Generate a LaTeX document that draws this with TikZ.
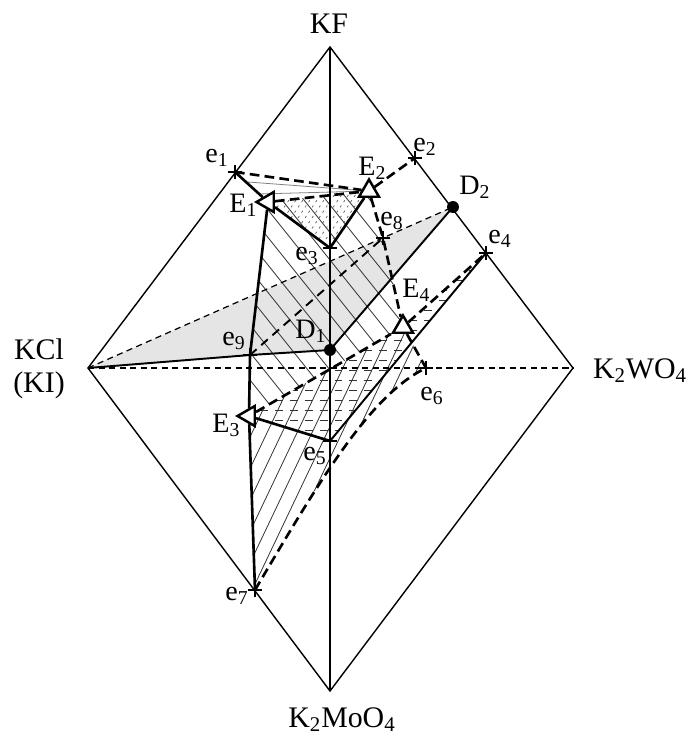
\documentclass[tikz,border=0pt]{standalone}
\usepackage{fontspec}
\setmainfont{Liberation Serif}
\usetikzlibrary{shapes.geometric}

\tikzset{
  edge/.style={line width=0.8pt},
  medline/.style={line width=1.1pt},
  thickline/.style={line width=1.5pt},
  thickdash/.style={line width=1.5pt, dash pattern=on 5.5pt off 3pt},
  meddash/.style={line width=1.1pt, dash pattern=on 5pt off 3.5pt},
  thindash/.style={line width=0.7pt, dash pattern=on 3.5pt off 2.5pt},
  hatch/.style={line width=0.45pt, black!80},
  tri/.style={regular polygon, regular polygon sides=3, draw, line width=1.4pt,
    fill=white, minimum size=0.46cm, inner sep=0pt},
  cmpd/.style={font=\fontsize{17}{20}\selectfont, inner sep=0pt, anchor=base},
  ptlab/.style={font=\fontsize{16}{18}\selectfont, inner sep=0pt, anchor=base west},
}

\begin{document}
\begin{tikzpicture}[x=0.02cm,y=-0.02cm]
\useasboundingbox (0,0) rectangle (691,738);

% corners of the square system
\coordinate (KF) at (330,47);
\coordinate (KCl) at (88,368);
\coordinate (KW) at (573,368);
\coordinate (KMo) at (330,691);

% eutectics and other points
\coordinate (e1) at (235,172);
\coordinate (e2) at (415,158);
\coordinate (e3) at (330,248);
\coordinate (e4) at (486,253);
\coordinate (e5) at (330,441);
\coordinate (e6) at (426,368);
\coordinate (e7) at (255,590);
\coordinate (e8) at (383,238);
\coordinate (e9) at (250,355);
\coordinate (D1) at (330,350);
\coordinate (D2) at (453,207);

% ternary eutectics (drawn later on top)
\node[tri, shape border rotate=90, draw=none, fill=none] (E1) at (268,202) {};
\node[tri, draw=none, fill=none] (E2) at (369,191) {};
\node[tri, shape border rotate=90, draw=none, fill=none] (E3) at (249,416) {};
\node[tri, draw=none, fill=none] (E4) at (403,327) {};

% grey field
\fill[gray!20] (KCl) -- (D2) -- (D1) -- cycle;

% hatching
\begin{scope}
  \clip (E1.center) -- (E2.center) -- (e8) -- (E4.center) -- (E3.center) -- (e9) -- cycle;
  \foreach \c in {0,22,...,460}
    \draw[hatch] (\c-100,25) -- ++(400,500);
\end{scope}
\begin{scope}
  \clip (E3.center) -- (E4.center) -- (e6) .. controls (370,395) and (320,480) .. (e7) -- cycle;
  \foreach \c in {130,145,...,500}
    \draw[hatch] (\c-80,668) -- ++(180,-378);
\end{scope}
\begin{scope}
  \clip (E3.center) -- (E4.center) -- (e4) -- (e5) -- cycle;
  \foreach \y in {250,260,...,450}
    \draw[hatch, dash pattern=on 4.5pt off 4pt] (230,\y) -- (500,\y);
\end{scope}
\begin{scope}
  \clip (E1.center) -- (E2.center) -- (e3) -- cycle;
  \foreach \c in {200,207,...,440}
    \draw[hatch, black!60, dash pattern=on 1.3pt off 2.3pt] (\c,260) -- ++(60,-90);
\end{scope}
\draw[hatch, gray] (248,182) -- (E2.center);
\draw[hatch, gray] (258,194) -- (E2.center);

% square and diagonals
\draw[edge] (KF) -- (KW) -- (KMo) -- (KCl) -- cycle;
\draw[edge] (KF) -- (KMo);
\draw[thindash] (KCl) -- (KW);
\draw[thindash] (KCl) -- (D2);

% stable sections
\draw[medline] (KCl) -- (e9) -- (D1) -- (D2);
\draw[medline] (e5) -- (e4);

% crystallization curves
\draw[thickline] (e1) -- (E1);
\draw[thickline] (E1) -- (e9) -- (E3) -- (e7);
\draw[thickline] (E1) -- (e3) -- (E2);
\draw[thickline] (E3) -- (e5);
\draw[thickdash] (e1) -- (E2);
\draw[thickdash] (E1) -- (E2);
\draw[thickdash] (E2) -- (e2);
\draw[thickdash] (E2) -- (e8) -- (E4);
\draw[thickdash] (E4) -- (e6);
\draw[thickdash] (E4) -- (e4);
\draw[thickdash] (E3) -- (E4);
\draw[meddash] (e9) -- (e8);
\draw[thickdash] (e7) .. controls (320,480) and (370,395) .. (e6);

% markers
\node[tri, shape border rotate=90] at (E1) {};
\node[tri] at (E2) {};
\node[tri, shape border rotate=90] at (E3) {};
\node[tri] at (E4) {};
\foreach \p in {e1,e2,e3,e4,e5,e6,e7,e8,e9}
  \draw[line width=0.6pt] (\p) ++(-7,0) -- ++(14,0) (\p) ++(0,-7) -- ++(0,14);
\fill (D1) circle (3.4pt);
\fill (D2) circle (3.4pt);

% labels
\node[cmpd] (lKF) at (329,33) {KF};
\node[font=\fontsize{17}{18.5}\selectfont, inner sep=0pt, align=center] (lKCl) at (39,369) {KCl\\(KI)};
\node[cmpd] (lKW) at (640,378) {K\textsubscript{2}WO\textsubscript{4}};
\node[cmpd] (lKMo) at (342,727) {K\textsubscript{2}MoO\textsubscript{4}};

\node[ptlab] (le1) at (205,162) {e\textsubscript{1}};
\node[ptlab] (le2) at (413,151) {e\textsubscript{2}};
\node[ptlab] (le3) at (295,260) {e\textsubscript{3}};
\node[ptlab] (le4) at (488,243) {e\textsubscript{4}};
\node[ptlab] (le5) at (303,460) {e\textsubscript{5}};
\node[ptlab] (le6) at (420,400) {e\textsubscript{6}};
\node[ptlab] (le7) at (225,600) {e\textsubscript{7}};
\node[ptlab] (le8) at (380,225) {e\textsubscript{8}};
\node[ptlab] (le9) at (222,345) {e\textsubscript{9}};
\node[ptlab] (lE1) at (229,212) {E\textsubscript{1}};
\node[ptlab] (lE2) at (358,175) {E\textsubscript{2}};
\node[ptlab] (lE3) at (212,432) {E\textsubscript{3}};
\node[ptlab] (lE4) at (402,297) {E\textsubscript{4}};
\node[ptlab] (lD1) at (295,338) {D\textsubscript{1}};
\node[ptlab] (lD2) at (459,194) {D\textsubscript{2}};
\end{tikzpicture}
\end{document}
